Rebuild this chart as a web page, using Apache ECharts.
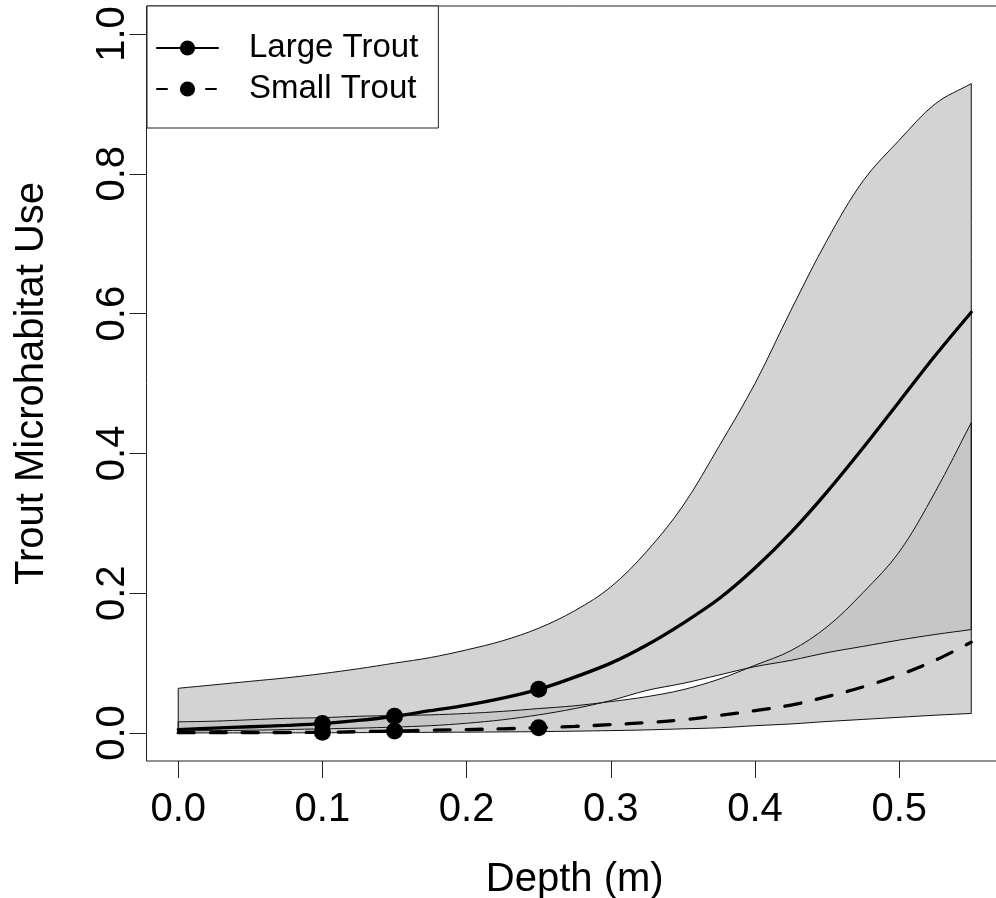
<!DOCTYPE html>
<html>
<head>
<meta charset="utf-8">
<script src="https://cdn.jsdelivr.net/npm/echarts@6/dist/echarts.min.js"></script>
<style>
  html, body { margin: 0; padding: 0; background: #fff; }
  #chart { width: 996px; height: 898px; }
</style>
</head>
<body>
<div id="chart"></div>
<script>
// ---- Data ----
const depth = [0, 0.025, 0.05, 0.075, 0.1, 0.125, 0.15, 0.175, 0.2, 0.225, 0.25, 0.275,
               0.3, 0.325, 0.35, 0.375, 0.4, 0.425, 0.45, 0.475, 0.5, 0.525, 0.55];

const largeFit   = [0.005, 0.007, 0.009, 0.011, 0.0136, 0.018, 0.024, 0.032, 0.040, 0.050, 0.0625, 0.080,
                    0.100, 0.126, 0.157, 0.192, 0.236, 0.287, 0.345, 0.408, 0.474, 0.540, 0.602];
const largeUpper = [0.064, 0.069, 0.074, 0.079, 0.085, 0.092, 0.100, 0.108, 0.119, 0.132, 0.150, 0.175,
                    0.209, 0.260, 0.325, 0.410, 0.500, 0.605, 0.705, 0.790, 0.848, 0.900, 0.929];
const largeLower = [0.003, 0.0035, 0.004, 0.005, 0.006, 0.007, 0.0085, 0.0105, 0.014, 0.019, 0.026, 0.035,
                    0.0465, 0.061, 0.071, 0.083, 0.095, 0.104, 0.115, 0.124, 0.133, 0.141, 0.148];

const smallFit   = [0.0005, 0.0006, 0.0007, 0.0008, 0.001, 0.002, 0.003, 0.004, 0.005, 0.006, 0.0076, 0.0095,
                    0.012, 0.015, 0.019, 0.025, 0.032, 0.040, 0.052, 0.066, 0.083, 0.104, 0.130];
const smallUpper = [0.016, 0.017, 0.019, 0.021, 0.022, 0.024, 0.025, 0.026, 0.028, 0.031, 0.035, 0.039,
                    0.045, 0.052, 0.062, 0.077, 0.097, 0.118, 0.152, 0.201, 0.259, 0.345, 0.444];
const smallLower = [0.0001, 0.00015, 0.0002, 0.0003, 0.0004, 0.0006, 0.0008, 0.001, 0.0013, 0.0016, 0.002, 0.0027,
                    0.0035, 0.0045, 0.006, 0.0075, 0.0105, 0.013, 0.0165, 0.0195, 0.0225, 0.0255, 0.028];

const obsDepth  = [0.1, 0.15, 0.25];
const obsLarge  = [0.0136, 0.024, 0.0625];
const obsSmall  = [0.001, 0.003, 0.0076];

const xTicks = [0, 0.1, 0.2, 0.3, 0.4, 0.5];
const yTicks = [0, 0.2, 0.4, 0.6, 0.8, 1.0];

const seriesNames = ['Large Trout', 'Small Trout'];
const xTitle = 'Depth (m)';
const yTitle = 'Trout Microhabitat Use';

// ---- Chart ----
const FONT = '"Liberation Sans", Arial, "DejaVu Sans", sans-serif';
const pairs = (xs, ys) => xs.map((x, i) => [x, ys[i]]);

// closed band outline; end points doubled so the smoothed outline keeps sharp corners
function bandPoints(api, xs, lo, hi) {
  const top = xs.map((x, i) => api.coord([x, hi[i]]));
  const bot = xs.map((x, i) => api.coord([x, lo[i]])).reverse();
  const pts = [];
  [top, bot].forEach(side => {
    pts.push(side[0]);
    side.forEach(p => pts.push(p));
    pts.push(side[side.length - 1]);
  });
  return pts;
}

const chart = echarts.init(document.getElementById('chart'), null, { renderer: 'canvas' });

const axisTextStyle = { color: '#000', fontFamily: FONT, fontSize: 40, lineHeight: 40 };
const SMOOTH = 0.35;

chart.setOption({
  animation: false,
  backgroundColor: '#fff',
  grid: {
    left: 146.5, top: 6, width: 856.5, height: 755,
    containLabel: false,
    outerBoundsMode: 'none',
    show: true, borderColor: '#222', borderWidth: 1, backgroundColor: 'transparent'
  },
  legend: {
    left: 147, top: 6,
    orient: 'vertical',
    selectedMode: false,
    data: [
      { name: seriesNames[0], lineStyle: { width: 2, type: 'solid' } },
      { name: seriesNames[1], lineStyle: { width: 2, type: [10, 39] } }
    ],
    itemWidth: 61, itemHeight: 19, itemGap: 5,
    padding: [24, 20, 21, 9],
    backgroundColor: '#fff', borderColor: '#222', borderWidth: 1,
    textStyle: { color: '#000', fontFamily: FONT, fontSize: 33, lineHeight: 36, padding: [0, 0, 0, 26] }
  },
  xAxis: {
    type: 'value', min: -0.022, max: 0.572,
    name: xTitle, nameLocation: 'middle', nameGap: 99,
    nameTextStyle: axisTextStyle,
    axisLine: { show: false, onZero: false },
    splitLine: { show: false },
    axisTick: { show: true, customValues: xTicks, length: 17, inside: false, lineStyle: { color: '#222', width: 1 } },
    axisLabel: { customValues: xTicks, margin: 29, formatter: v => v.toFixed(1), ...axisTextStyle }
  },
  yAxis: {
    type: 'value', min: -0.04, max: 1.04,
    name: yTitle, nameLocation: 'middle', nameGap: 95, nameRotate: 90,
    nameTextStyle: axisTextStyle,
    axisLine: { show: false, onZero: false },
    splitLine: { show: false },
    axisTick: { show: true, customValues: yTicks, length: 17, inside: false, lineStyle: { color: '#222', width: 1 } },
    axisLabel: { customValues: yTicks, rotate: 90, margin: 14, formatter: v => v.toFixed(1), ...axisTextStyle }
  },
  series: [
    {
      type: 'custom',
      name: 'bands',
      coordinateSystem: 'cartesian2d',
      silent: true,
      z: 1,
      data: [[0, 0]],
      renderItem: (params, api) => {
        const L = bandPoints(api, depth, largeLower, largeUpper);
        const S = bandPoints(api, depth, smallLower, smallUpper);
        const fill = 'rgba(192,192,192,0.7)';
        return {
          type: 'group',
          children: [
            { type: 'polygon', shape: { points: L, smooth: SMOOTH }, style: { fill: fill, stroke: null } },
            { type: 'polygon', shape: { points: S, smooth: SMOOTH }, style: { fill: fill, stroke: null } },
            { type: 'polygon', shape: { points: L, smooth: SMOOTH }, style: { fill: 'none', stroke: '#111', lineWidth: 1 } },
            { type: 'polygon', shape: { points: S, smooth: SMOOTH }, style: { fill: 'none', stroke: '#111', lineWidth: 1 } }
          ]
        };
      }
    },
    {
      type: 'line', name: seriesNames[0],
      data: pairs(depth, largeFit),
      symbol: 'circle', showSymbol: false, symbolSize: 17,
      smooth: SMOOTH,
      color: '#000',
      lineStyle: { color: '#000', width: 3.3, type: 'solid', cap: 'round' },
      itemStyle: { color: '#000', opacity: 1 },
      z: 3, silent: true
    },
    {
      type: 'line', name: seriesNames[1],
      data: pairs(depth, smallFit),
      symbol: 'circle', showSymbol: false, symbolSize: 17,
      smooth: SMOOTH,
      color: '#000',
      lineStyle: { color: '#000', width: 3.3, type: [16, 16], cap: 'round' },
      itemStyle: { color: '#000', opacity: 1 },
      z: 3, silent: true
    },
    {
      type: 'scatter', name: 'Large Trout observed',
      data: pairs(obsDepth, obsLarge),
      symbol: 'circle', symbolSize: 17,
      itemStyle: { color: '#000', opacity: 1 },
      z: 4, silent: true
    },
    {
      type: 'scatter', name: 'Small Trout observed',
      data: pairs(obsDepth, obsSmall),
      symbol: 'circle', symbolSize: 17,
      itemStyle: { color: '#000', opacity: 1 },
      z: 4, silent: true
    }
  ]
});
</script>
</body>
</html>
